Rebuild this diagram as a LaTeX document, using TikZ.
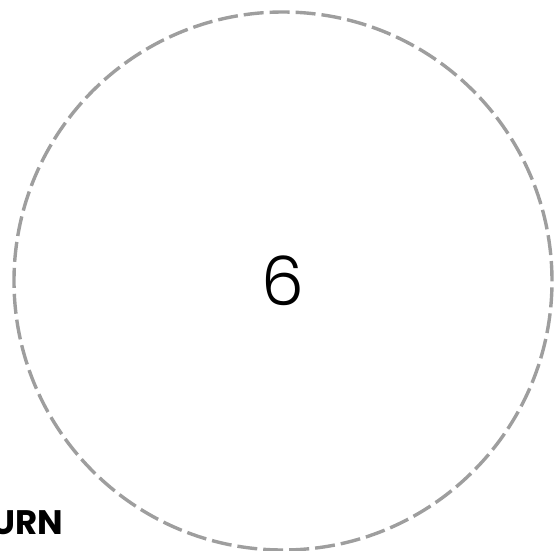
\documentclass[tikz,border=0pt]{standalone}
\usepackage{fontspec}
\setmainfont{Poppins}[UprightFont=* Light, BoldFont=* Bold]
\begin{document}
\begin{tikzpicture}[x=1pt,y=-1pt,
  ring/.style={draw=black!38, line width=3.4pt, dash pattern=on 20pt off 6pt},
  numlabel/.style={font=\fontsize{68}{68}\selectfont, inner sep=0pt},
  sidelabel/.style={font=\fontsize{34}{34}\selectfont\bfseries, inner sep=0pt, anchor=base east}]
\useasboundingbox (0,0) rectangle (560,550);
\clip (0,0) rectangle (560,550);
\node[ring, circle, minimum size=538pt, inner sep=0pt] (c) at (283,281) {};
\node[numlabel, anchor=base] (n) at (283,305) {6};
\node[sidelabel] (u) at (63,534) {URN};
\end{tikzpicture}
\end{document}
